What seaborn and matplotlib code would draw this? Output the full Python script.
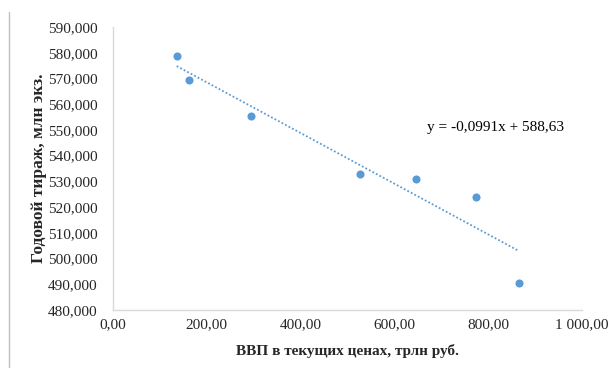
import numpy as np
import pandas as pd
import seaborn as sns
import matplotlib.pyplot as plt
from matplotlib.lines import Line2D
from matplotlib.ticker import FuncFormatter

# data
gdp = [135.8, 162.0, 294.0, 527.0, 646.0, 775.0, 866.0]
circulation = [578.7, 569.3, 555.4, 533.0, 530.9, 523.9, 490.5]
equation = "y = -0,0991x + 588,63"

df = pd.DataFrame({"gdp": gdp, "circ": circulation})

sns.set_style("white")
plt.rcParams["font.family"] = ["Liberation Serif", "DejaVu Serif"]

fig = plt.figure(figsize=(6.11, 3.68), dpi=100)
ax = fig.add_axes([0.185, 0.158, 0.7675, 0.7686])

sns.regplot(x="gdp", y="circ", data=df, ax=ax, ci=None,
            scatter_kws={"s": 34, "color": "#5b9bd5", "alpha": 1, "linewidths": 0},
            line_kws={"color": "#5b9bd5", "linestyle": (0, (1, 1.2)), "linewidth": 1.3})

ax.set_xlim(0, 1000)
ax.set_ylim(480, 590)
ax.set_xticks(np.arange(0, 1001, 200))
ax.set_yticks(np.arange(480, 591, 10))


def fmt_x(v, pos):
    s = f"{v:,.2f}".replace(",", " ").replace(".", ",")
    return s


def fmt_y(v, pos):
    return f"{v:.3f}".replace(".", ",")


ax.xaxis.set_major_formatter(FuncFormatter(fmt_x))
ax.yaxis.set_major_formatter(FuncFormatter(fmt_y))
ax.tick_params(axis="both", length=0, labelsize=11, colors="#262626")
ax.tick_params(axis="y", pad=11)
ax.tick_params(axis="x", pad=6)

for side in ["top", "right"]:
    ax.spines[side].set_visible(False)
for side in ["left", "bottom"]:
    ax.spines[side].set_color("#d9d9d9")
    ax.spines[side].set_linewidth(1)

ax.set_xlabel("ВВП в текущих ценах, трлн руб.", fontsize=11, fontweight="bold", labelpad=9)
ax.set_ylabel("Годовой тираж, млн экз.", fontsize=12.5, fontweight="bold", labelpad=1)

ax.text(669, 551, equation, fontsize=11, ha="left", va="center", color="#000000")

# outer frame line at the left edge
fig.add_artist(Line2D([0.0147, 0.0147], [0.0, 0.968], color="#bfbfbf", linewidth=1))

fig.savefig("out.png", dpi=100)
